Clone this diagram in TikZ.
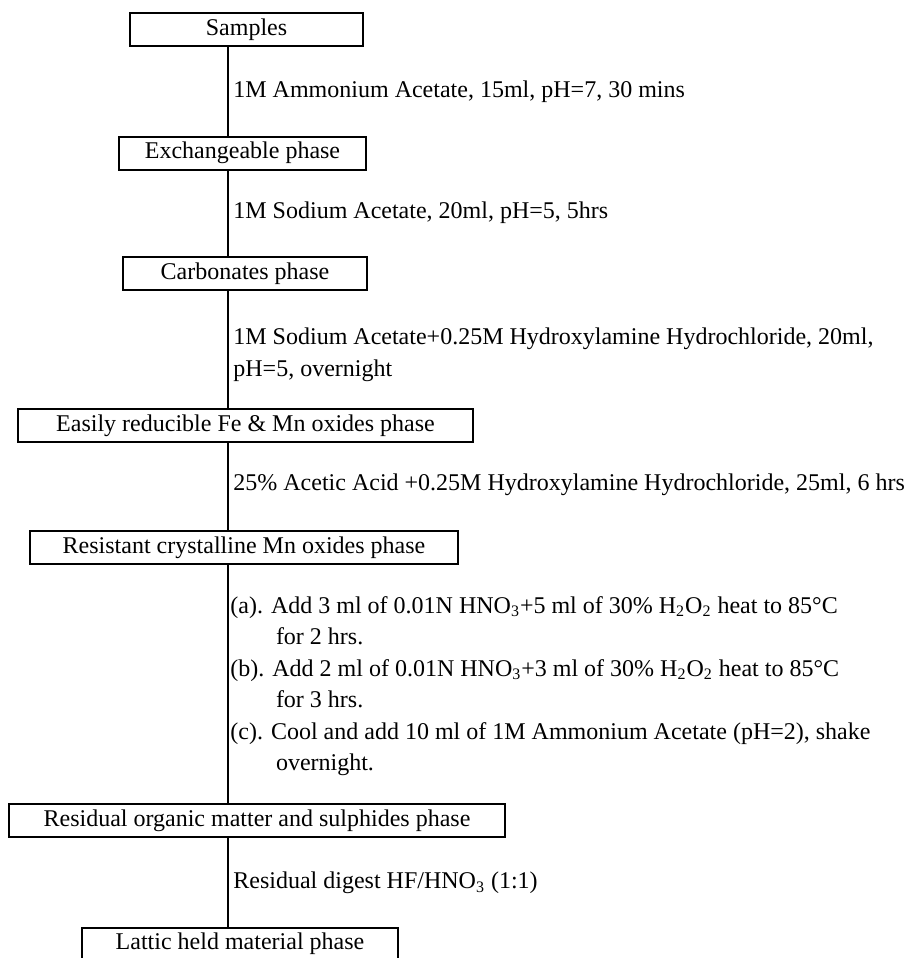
\documentclass[tikz,border=0pt]{standalone}
\usepackage{fontspec}
\setmainfont{Liberation Serif}

\begin{document}
\begin{tikzpicture}[x=0.5pt,y=-0.5pt,font=\fontsize{12}{15.75}\selectfont,
    phase/.style={draw=black,line width=1pt,minimum height=16.5pt,inner sep=0pt,outer sep=0pt},
    reagent/.style={anchor=west,align=left,inner sep=0pt},
    flow/.style={black,line width=0.75pt}]

\useasboundingbox (0,0) rectangle (911,958);
\coordinate (spine) at (228,0);

% ---------- phases ----------
\node[phase,minimum width=116.5pt] (samples) at (246.5,29.5) {Samples};
\node[phase,minimum width=123.5pt] (exch) at (242.5,153) {Exchangeable phase};
\node[phase,minimum width=122pt] (carb) at (245,273.5) {Carbonates phase};
\node[phase,minimum width=227.5pt] (easy) at (245.5,425.5) {Easily reducible Fe \& Mn oxides phase};
\node[phase,minimum width=214pt] (resist) at (244,547.5) {Resistant crystalline Mn oxides phase};
\node[phase,minimum width=248pt] (organic) at (257,820.5) {Residual organic matter and sulphides phase};
\node[phase,minimum width=158pt] (lattic) at (240,944) {Lattic held material phase};

% ---------- reagents ----------
\node[reagent] (r1) at (233,92) {1M Ammonium Acetate, 15ml, pH=7, 30 mins};
\node[reagent] (r2) at (233,213) {1M Sodium Acetate, 20ml, pH=5, 5hrs};
\node[reagent] (r3) at (233,355) {1M Sodium Acetate+0.25M Hydroxylamine Hydrochloride, 20ml,\\pH=5, overnight};
\node[reagent] (r4) at (233,485) {25\% Acetic Acid +0.25M Hydroxylamine Hydrochloride, 25ml, 6 hrs};
\node[reagent] (r5) at (230,686) {(a). Add 3 ml of 0.01N HNO\textsubscript{3}+5 ml of 30\% H\textsubscript{2}O\textsubscript{2} heat to 85°C\\
\hspace*{1.9em}for 2 hrs.\\
(b). Add 2 ml of 0.01N HNO\textsubscript{3}+3 ml of 30\% H\textsubscript{2}O\textsubscript{2} heat to 85°C\\
\hspace*{1.9em}for 3 hrs.\\
(c). Cool and add 10 ml of 1M Ammonium Acetate (pH=2), shake\\
\hspace*{1.9em}overnight.};
\node[reagent] (r6) at (233,883) {Residual digest HF/HNO\textsubscript{3} (1:1)};

% ---------- spine ----------
\foreach \a/\b in {samples/exch,exch/carb,carb/easy,easy/resist,resist/organic,organic/lattic}{
    \draw[flow] (\a.south -| spine) -- (\b.north -| spine);
}

\end{tikzpicture}
\end{document}
